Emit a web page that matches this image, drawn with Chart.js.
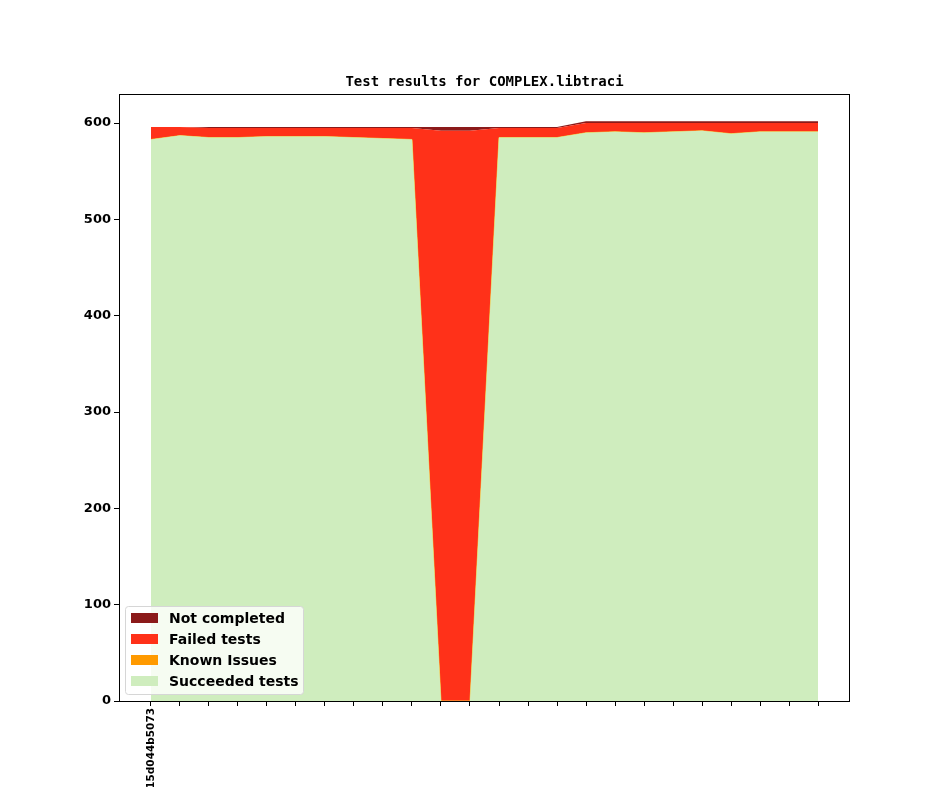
<!DOCTYPE html>
<html>
<head>
<meta charset="utf-8">
<script src="https://cdn.jsdelivr.net/npm/chart.js@4/dist/chart.umd.min.js"></script>
<style>
  html, body { margin: 0; padding: 0; background: #fff; }
  #wrap { width: 944px; height: 787px; position: relative; }
</style>
</head>
<body>
<div id="wrap"><canvas id="chart" width="944" height="787"></canvas></div>
<script>
// test run labels (only the first one is printed on the axis)
const runLabels = ['15d044b5073', '', '', '', '', '', '', '', '', '', '', '',
                   '', '', '', '', '', '', '', '', '', '', '', ''];

const succeeded = [583, 587, 585, 585, 586, 586, 586, 585, 584, 583, 0, 0,
                   585, 585, 585, 590, 591, 590, 591, 592, 589, 591, 591, 591];
const knownIssues = [0, 0, 0, 0, 0, 0, 0, 0, 0, 0, 0, 0,
                     0, 0, 0, 0, 0, 0, 0, 0, 0, 0, 0, 0];
const failed = [13, 9, 10, 10, 9, 9, 9, 10, 11, 12, 592, 592,
                10, 10, 10, 10, 9, 10, 9, 8, 11, 9, 9, 9];
const notCompleted = [0, 0, 1, 1, 1, 1, 1, 1, 1, 1, 4, 4,
                      1, 1, 1, 2, 2, 2, 2, 2, 2, 2, 2, 2];

const yTicks = [0, 100, 200, 300, 400, 500, 600];

const COLORS = {
    notCompleted: '#8b1a1a',
    failed: '#ff3119',
    known: '#ff9a00',
    succeeded: '#cfedbe'
};

const toPoints = arr => arr.map((v, i) => ({ x: i, y: v }));

const titlePlugin = {
    id: 'titleText',
    afterDraw(chart) {
        const ctx = chart.ctx;
        const a = chart.chartArea;
        ctx.save();
        ctx.font = "bold 14px 'DejaVu Sans Mono', monospace";
        ctx.fillStyle = '#000';
        ctx.textAlign = 'center';
        ctx.textBaseline = 'middle';
        ctx.fillText('Test results for COMPLEX.libtraci', (a.left + a.right) / 2, 82);
        ctx.restore();
    }
};

const framePlugin = {
    id: 'frame',
    afterDatasetsDraw(chart) {
        const ctx = chart.ctx;
        const a = chart.chartArea;
        ctx.save();
        ctx.strokeStyle = '#000';
        ctx.lineWidth = 1;
        ctx.strokeRect(a.left + 0.5, a.top + 0.5, a.right - a.left - 1, a.bottom - a.top);
        ctx.restore();
    }
};

const legendPlugin = {
    id: 'boxLegend',
    afterDraw(chart) {
        const ctx = chart.ctx;
        const a = chart.chartArea;
        const items = [
            ['Not completed', COLORS.notCompleted],
            ['Failed tests', COLORS.failed],
            ['Known Issues', COLORS.known],
            ['Succeeded tests', COLORS.succeeded]
        ];
        const x = a.left + 6, y = a.bottom - 95, w = 178, h = 88;
        ctx.save();
        ctx.fillStyle = 'rgba(255,255,255,0.8)';
        ctx.strokeStyle = '#d6d6d6';
        ctx.lineWidth = 1;
        ctx.beginPath();
        ctx.roundRect(x + 0.5, y + 0.5, w, h, 3);
        ctx.fill();
        ctx.stroke();
        ctx.font = "bold 14px 'DejaVu Sans', sans-serif";
        ctx.textBaseline = 'middle';
        items.forEach((it, i) => {
            const cy = y + 12 + i * 21;
            ctx.fillStyle = it[1];
            ctx.fillRect(x + 6, cy - 5, 27, 10);
            ctx.fillStyle = '#000';
            ctx.fillText(it[0], x + 44, cy + 1);
        });
        ctx.restore();
    }
};

new Chart(document.getElementById('chart'), {
    type: 'line',
    data: {
        datasets: [
            {
                label: 'Succeeded tests',
                data: toPoints(succeeded),
                backgroundColor: COLORS.succeeded,
                borderColor: COLORS.succeeded,
                borderWidth: 0,
                fill: 'origin'
            },
            {
                label: 'Known Issues',
                data: toPoints(knownIssues),
                backgroundColor: COLORS.known,
                borderColor: '#f5c23a',
                borderWidth: 1,
                fill: '-1'
            },
            {
                label: 'Failed tests',
                data: toPoints(failed),
                backgroundColor: COLORS.failed,
                borderColor: COLORS.failed,
                borderWidth: 0,
                fill: '-1'
            },
            {
                label: 'Not completed',
                data: toPoints(notCompleted),
                backgroundColor: COLORS.notCompleted,
                borderColor: COLORS.notCompleted,
                borderWidth: 0,
                fill: '-1'
            }
        ]
    },
    options: {
        responsive: false,
        animation: false,
        layout: { padding: { left: 0, right: 94, top: 94, bottom: 0 } },
        elements: { point: { radius: 0 }, line: { tension: 0 } },
        plugins: {
            legend: { display: false },
            tooltip: { enabled: false },
            filler: { propagate: false }
        },
        scales: {
            x: {
                type: 'linear',
                min: -1.103,
                max: 24.103,
                afterBuildTicks: s => { s.ticks = runLabels.map((_, i) => ({ value: i })); },
                afterFit: s => { s.height = 86; },
                grid: { display: true, drawOnChartArea: false, tickLength: 5, color: '#000' },
                border: { display: false },
                ticks: {
                    autoSkip: false,
                    minRotation: 90,
                    maxRotation: 90,
                    padding: 2,
                    color: '#000',
                    font: { size: 10.5, weight: 'bold', family: "'DejaVu Sans', sans-serif" },
                    callback: v => runLabels[v] || ''
                }
            },
            y: {
                stacked: true,
                min: 0,
                max: 630.2,
                afterBuildTicks: s => { s.ticks = yTicks.map(v => ({ value: v })); },
                afterFit: s => { s.width = 119; },
                grid: { display: true, drawOnChartArea: false, tickLength: 5, color: '#000' },
                border: { display: false },
                ticks: {
                    color: '#000',
                    padding: 3,
                    font: { size: 13, weight: 'bold', family: "'DejaVu Sans', sans-serif" }
                }
            }
        }
    },
    plugins: [titlePlugin, framePlugin, legendPlugin]
});
</script>
</body>
</html>
